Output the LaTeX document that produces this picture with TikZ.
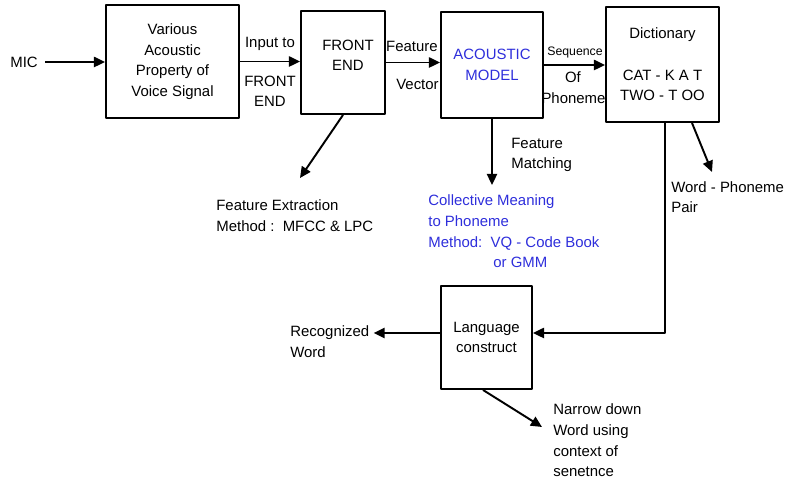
\documentclass[tikz,border=0pt]{standalone}
\usepackage{fontspec}
\setmainfont{Liberation Sans}
\usetikzlibrary{arrows.meta}
\definecolor{amblue}{HTML}{2E2EDB}
\tikzset{
  every picture/.style={font=\fontsize{8.5}{11.7}\selectfont, line join=round},
  box/.style={draw, line width=1.1pt, align=center, inner sep=0pt},
  lbl/.style={align=left, inner sep=0pt, anchor=west},
  mid/.style={align=center, inner sep=0pt},
  flow/.style={-{Triangle[length=6.3pt,width=5.8pt]}, line width=1.1pt},
}

\begin{document}
\begin{tikzpicture}[x=0.2mm,y=-0.2mm]
\useasboundingbox (0,0) rectangle (790,479);
% blocks
\node[box,minimum width=26.6mm,minimum height=22.6mm] (acprop) at (172.5,61.5) {Various\\Acoustic\\Property of\\Voice Signal};
\node[box,minimum width=16.8mm,minimum height=20.6mm] (frontend) at (343,62.5) {};
\node[mid] (fetext) at (348,55.5) {FRONT\\END};
\node[box,text=amblue,minimum width=20.4mm,minimum height=21.2mm] (acmodel) at (492,65) {ACOUSTIC\\MODEL};
\node[box,minimum width=22.6mm,minimum height=23mm] (dict) at (662.5,64.5) {Dictionary\\[11.7pt]CAT - K A T\\TWO - T OO};
\node[box,minimum width=18.2mm,minimum height=20.6mm] (lang) at (486.5,337.5) {Language\\construct};
% labels
\node[lbl] (mic) at (10,62) {MIC};
\node[mid] (inlbl) at (270,44) {Input to};
\node[mid] (felbl) at (270,91.5) {FRONT\\END};
\node[mid,anchor=east] (featlbl) at (438,46) {Feature};
\node[mid,anchor=east] (veclbl) at (439,84) {Vector};
\node[mid,font=\fontsize{7}{9}\selectfont] (seqlbl) at (575,52) {Sequence};
\node[mid] (oflbl) at (573,77) {Of};
\node[mid] (phonlbl) at (573.5,98) {Phoneme};
\node[lbl] (fxlbl) at (216,215.5) {Feature Extraction\\Method :\ \ MFCC \& LPC};
\node[lbl] (fmlbl) at (511,155) {Feature\\Matching};
\node[lbl,text=amblue] (cmlbl) at (428,231.5) {Collective Meaning\\to Phoneme\\Method:\ \ VQ - Code Book\\\hspace*{37pt}or GMM};
\node[lbl] (wplbl) at (671,197) {Word - Phoneme\\Pair};
\node[lbl] (recog) at (290,341.5) {Recognized\\Word};
\node[lbl] (narrow) at (553,440.5) {Narrow down\\Word using\\context of\\senetnce};
% free ends
\coordinate (fxtip) at (300,178);
\coordinate (cmtip) at (492,185);
\coordinate (wptip) at (712,172);
\coordinate (nwtip) at (542,427);
% connectors
\draw[flow,shorten <=4pt] (mic.east) -- (mic.east -| acprop.west);
\draw[flow] (acprop.east) -- (acprop.east -| frontend.west);
\draw[flow] (frontend.east) -- (frontend.east -| acmodel.west);
\draw[flow] (acmodel.east) -- (acmodel.east -| dict.west);
\draw[flow] (frontend.south) -- (fxtip);
\draw[flow] (acmodel.south) -- (cmtip);
\draw[flow] ([xshift=5.9mm]dict.south) -- (wptip);
\draw[flow] ([xshift=0.5mm]dict.south) |- ([yshift=0.9mm]lang.east);
\draw[flow,shorten >=2.3pt] ([yshift=0.9mm]lang.west) -- ([yshift=0.9mm]lang.west -| recog.east);
\draw[flow] ([xshift=-0.7mm]lang.south) -- (nwtip);
\end{tikzpicture}
\end{document}
